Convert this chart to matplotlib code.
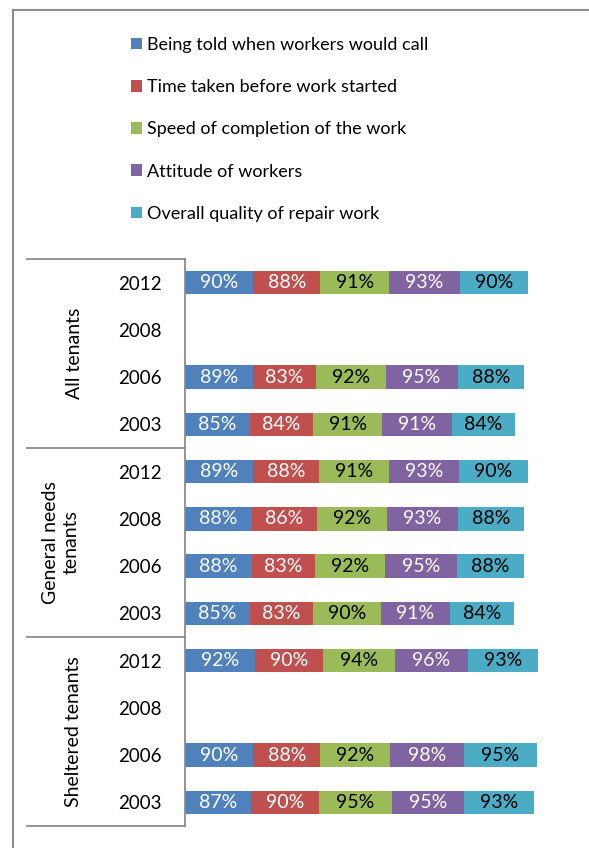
import numpy as np
import matplotlib
matplotlib.use("Agg")
import matplotlib.pyplot as plt
from matplotlib.patches import Patch
from matplotlib.lines import Line2D

plt.rcParams['font.family'] = ['Lato', 'DejaVu Sans']

series = ["Being told when workers would call",
          "Time taken before work started",
          "Speed of completion of the work",
          "Attitude of workers",
          "Overall quality of repair work"]
colors = ["#4F81BD", "#C0504D", "#9BBB59", "#8064A2", "#4BACC6"]
text_colors = ["white", "white", "black", "white", "black"]

groups = ["All tenants", "General needs\ntenants", "Sheltered tenants"]
years = ["2012", "2008", "2006", "2003"]

# rows top to bottom; None = no survey that year
all_tenants = [[90, 88, 91, 93, 90], None, [89, 83, 92, 95, 88], [85, 84, 91, 91, 84]]
general_needs = [[89, 88, 91, 93, 90], [88, 86, 92, 93, 88], [88, 83, 92, 95, 88], [85, 83, 90, 91, 84]]
sheltered = [[92, 90, 94, 96, 93], None, [90, 88, 92, 98, 95], [87, 90, 95, 95, 93]]

rows = all_tenants + general_needs + sheltered
n = len(rows)

W, H = 589, 848
fig = plt.figure(figsize=(W / 100, H / 100), dpi=100)

ax_l, ax_r = 185, 565
ax_t, ax_b = 259, 826
ax = fig.add_axes([ax_l / W, 1 - ax_b / H, (ax_r - ax_l) / W, (ax_b - ax_t) / H])

ypos = np.arange(n)
for i, vals in enumerate(rows):
    if vals is None:
        continue
    left = 0
    for k, v in enumerate(vals):
        ax.barh(i, v, left=left, height=0.5, color=colors[k], edgecolor="none")
        ax.text(left + v / 2, i, f"{v}%", ha="center", va="center",
                color=text_colors[k], fontsize=14)
        left += v

xmax = (ax_r - ax_l) / 0.7595
ax.set_xlim(0, xmax)
ax.set_ylim(n - 0.5, -0.5)
ax.set_xticks([])
ax.set_yticks(ypos)
ax.set_yticklabels(years * 3, fontsize=13.5)
ax.tick_params(axis="y", length=0, pad=17)
for s in ["top", "right", "bottom"]:
    ax.spines[s].set_visible(False)
ax.spines["left"].set_color("#8c8c8c")
ax.spines["left"].set_linewidth(1.3)

# group separators and group labels
trans = ax.get_yaxis_transform()
x_sep = (27 - ax_l) / (ax_r - ax_l)
for b in [-0.5, 3.5, 7.5, 11.5]:
    ax.plot([x_sep, 0], [b, b], color="#8c8c8c", lw=1.3, transform=trans, clip_on=False)
gx = [(75 - ax_l) / (ax_r - ax_l), (61 - ax_l) / (ax_r - ax_l), (74 - ax_l) / (ax_r - ax_l)]
for g, name in enumerate(groups):
    ax.text(gx[g], 4 * g + 1.5, name, rotation=90, ha="center", va="center",
            fontsize=14, transform=trans, linespacing=1.25)

# chart border (left and top edges visible)
fig.add_artist(Line2D([13 / W, 13 / W], [0, 1 - 10 / H], color="#8c8c8c", lw=1.5))
fig.add_artist(Line2D([13 / W, 1], [1 - 10 / H, 1 - 10 / H], color="#8c8c8c", lw=1.5))

handles = [Patch(facecolor=c, edgecolor="none") for c in colors]
fig.legend(handles, series, loc="upper left", bbox_to_anchor=(122 / W, 1 - 28 / H),
           frameon=False, fontsize=13, handlelength=0.6, handleheight=0.6,
           handletextpad=0.3, labelspacing=1.45, borderpad=0)

fig.savefig("out.png", dpi=100)
